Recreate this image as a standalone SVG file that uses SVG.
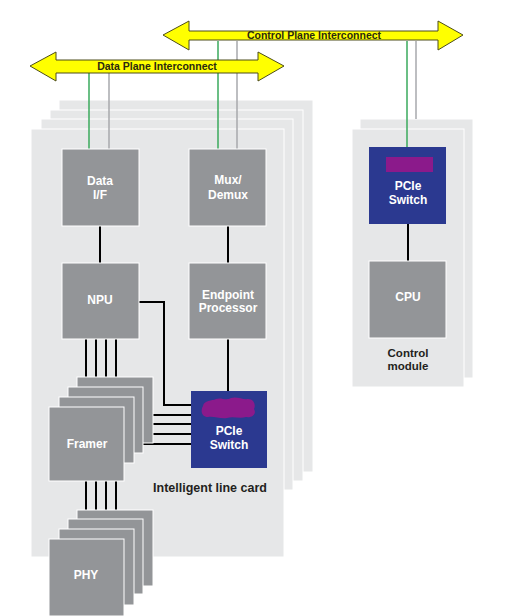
<svg xmlns="http://www.w3.org/2000/svg" width="509" height="616" viewBox="0 0 509 616">
<style>
.card{fill:#e6e7e8;stroke:#ffffff;stroke-width:1}
.node{fill:#939598;stroke:#ffffff;stroke-width:1}
.pcie{fill:#2b3990}
.blob{fill:#8b1a8b}
.nt{font-family:"Liberation Sans",Arial,sans-serif;font-weight:bold;font-size:12px;fill:#ffffff;text-anchor:middle}
.lt{font-family:"Liberation Sans",Arial,sans-serif;font-weight:bold;font-size:12.5px;fill:#231f20;text-anchor:middle}
.ct{font-family:"Liberation Sans",Arial,sans-serif;font-weight:bold;font-size:11.5px;fill:#231f20;text-anchor:middle}
.at{font-family:"Liberation Sans",Arial,sans-serif;font-weight:bold;font-size:10.5px;fill:#2a2a10;text-anchor:middle}
.arrow{fill:#ffff00;stroke:#4d4d1a;stroke-width:1}
.w{stroke:#000000;stroke-width:2;fill:none}
.g{stroke:#3aaa5c;stroke-width:1.5;fill:none}
.gy{stroke:#a7a9ac;stroke-width:1.5;fill:none}
</style>
<rect width="509" height="616" fill="#ffffff"/>
<g id="line-card-stack">
<rect class="card" x="59" y="100" width="254" height="372"/>
<rect class="card" x="50" y="110" width="253" height="371"/>
<rect class="card" x="41" y="119" width="252" height="371"/>
<rect class="card" x="31" y="129" width="253" height="428"/>
<text class="lt" x="210" y="492">Intelligent line card</text>
</g>
<g id="control-module">
<rect class="card" x="360" y="119" width="113" height="259"/>
<rect class="card" x="352" y="129" width="112" height="258"/>
<text class="ct" x="408" y="357">Control</text>
<text class="ct" x="408" y="370">module</text>
</g>
<g id="connectors">
<line class="g" x1="89" y1="72" x2="89" y2="149"/>
<line class="gy" x1="109" y1="72" x2="109" y2="149"/>
<line class="g" x1="218" y1="41" x2="218" y2="149"/>
<line class="gy" x1="237" y1="41" x2="237" y2="149"/>
<line class="g" x1="407" y1="41" x2="407" y2="147"/>
<line class="gy" x1="416" y1="41" x2="416" y2="119"/>
<line class="w" x1="100" y1="226" x2="100" y2="263"/>
<line class="w" x1="228" y1="226" x2="228" y2="263"/>
<line class="w" x1="228" y1="339" x2="228" y2="391"/>
<line class="w" x1="408" y1="224" x2="408" y2="261"/>
<polyline class="w" points="139,302 164,302 164,405 191,405"/>
<line class="w" x1="86" y1="339" x2="86" y2="407"/>
<line class="w" x1="96" y1="339" x2="96" y2="397"/>
<line class="w" x1="106" y1="339" x2="106" y2="387"/>
<line class="w" x1="116" y1="339" x2="116" y2="377"/>
<line class="w" x1="153" y1="415" x2="191" y2="415"/>
<line class="w" x1="143" y1="424" x2="191" y2="424"/>
<line class="w" x1="134" y1="434" x2="191" y2="434"/>
<line class="w" x1="124" y1="444" x2="191" y2="444"/>
<line class="w" x1="86" y1="481" x2="86" y2="539"/>
<line class="w" x1="96" y1="481" x2="96" y2="529"/>
<line class="w" x1="106" y1="481" x2="106" y2="519"/>
<line class="w" x1="116" y1="481" x2="116" y2="510"/>
</g>
<g id="control-plane-interconnect">
<polygon class="arrow" points="163,35 189,21 189,31 438,31 438,21 463,35 438,50 438,40 189,40 189,50"/>
<text class="at" x="314" y="39">Control Plane Interconnect</text>
</g>
<g id="data-plane-interconnect">
<polygon class="arrow" points="30,66 56,52 56,60 258,60 258,52 284,66 258,81 258,73 56,73 56,81"/>
<text class="at" x="157" y="70">Data Plane Interconnect</text>
</g>
<g id="data-if">
<rect class="node" x="62" y="149" width="77" height="77"/>
<text class="nt" x="100" y="185">Data</text>
<text class="nt" x="100" y="199">I/F</text>
</g>
<g id="mux-demux">
<rect class="node" x="189" y="149" width="77" height="77"/>
<text class="nt" x="228" y="184">Mux/</text>
<text class="nt" x="228" y="199">Demux</text>
</g>
<g id="npu">
<rect class="node" x="62" y="263" width="77" height="76"/>
<text class="nt" x="100" y="304">NPU</text>
</g>
<g id="endpoint-processor">
<rect class="node" x="189" y="263" width="77" height="76"/>
<text class="nt" x="228" y="299">Endpoint</text>
<text class="nt" x="228" y="312">Processor</text>
</g>
<g id="pcie-switch-line">
<rect class="pcie" x="191" y="391" width="76" height="77"/>
<path class="blob" d="M203,406 C204,400 212,401 216,399 C221,397 226,401 231,398 C237,396 243,400 248,399 C254,399 256,405 254,409 C257,414 252,418 246,417 C240,419 233,416 227,418 C220,419 214,416 208,417 C202,417 200,411 203,406 Z"/>
<text class="nt" x="229" y="435">PCIe</text>
<text class="nt" x="229" y="449">Switch</text>
</g>
<g id="framer">
<rect class="node" x="77" y="377" width="76" height="66"/>
<rect class="node" x="68" y="387" width="75" height="66"/>
<rect class="node" x="59" y="397" width="75" height="66"/>
<rect class="node" x="49" y="407" width="75" height="74"/>
<text class="nt" x="87" y="448">Framer</text>
</g>
<g id="phy">
<rect class="node" x="77" y="510" width="76" height="76"/>
<rect class="node" x="68" y="519" width="75" height="75"/>
<rect class="node" x="59" y="529" width="75" height="76"/>
<rect class="node" x="49" y="539" width="75" height="77"/>
<text class="nt" x="86" y="579">PHY</text>
</g>
<g id="pcie-switch-control">
<rect class="pcie" x="369" y="147" width="77" height="77"/>
<rect class="blob" x="386" y="157" width="47" height="15"/>
<text class="nt" x="408" y="190">PCIe</text>
<text class="nt" x="408" y="204">Switch</text>
</g>
<g id="cpu">
<rect class="node" x="369" y="261" width="77" height="77"/>
<text class="nt" x="408" y="301">CPU</text>
</g>
</svg>
